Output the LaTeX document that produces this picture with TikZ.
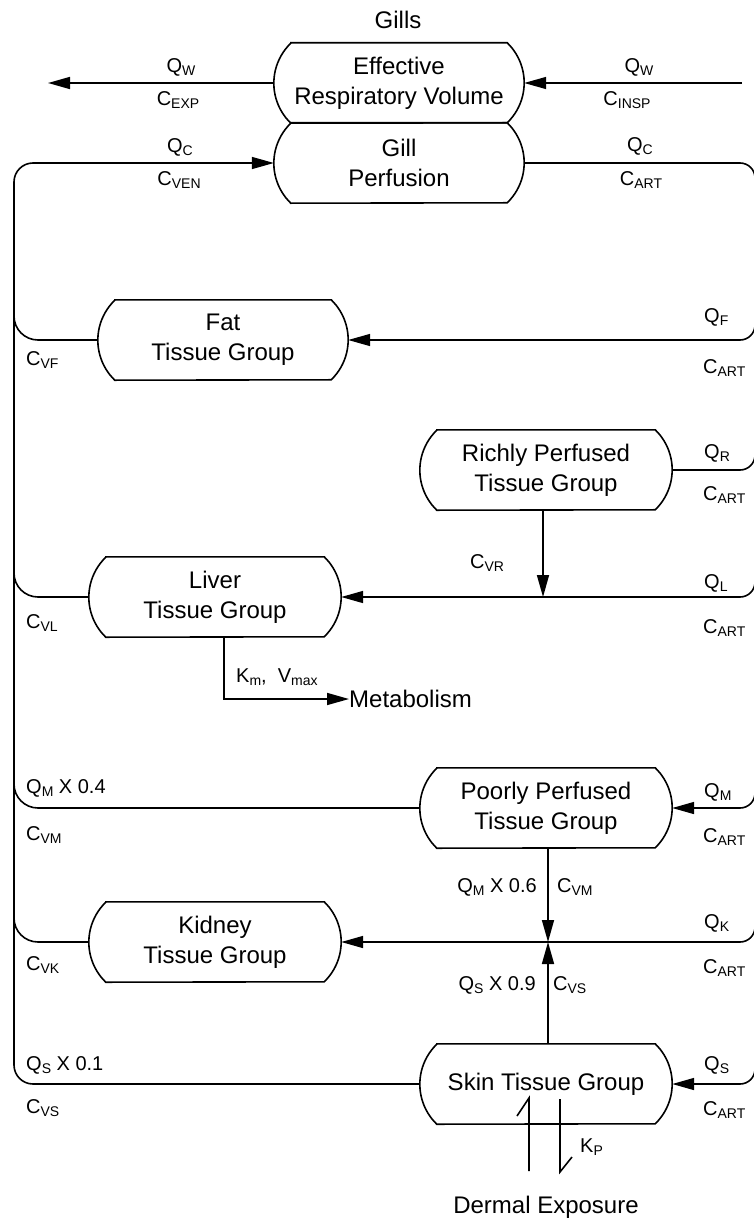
\documentclass[tikz,border=0pt]{standalone}
\usepackage{fontspec}
\setmainfont{Liberation Sans}
\usetikzlibrary{arrows.meta}
\newcommand\lblf{\fontsize{20}{24}\selectfont}
\newcommand\bxf{\fontsize{24}{30}\selectfont}
\newcommand\sbs[1]{\raisebox{-3pt}{\fontsize{14}{14}\selectfont #1}}
\newcommand\tout[1]{\draw[ln] ([xshift=17pt]#1.north west) -- ([xshift=-17pt]#1.north east) arc[start angle=46, end angle=-46, radius=55.6pt] -- ([xshift=17pt]#1.south west) arc[start angle=226, end angle=134, radius=55.6pt] -- cycle;}
\tikzset{
  ln/.style={line width=1.6pt},
  arr/.style={ln, -{Triangle[length=22pt,width=12pt]}},
  tbox/.style={minimum width=252pt, minimum height=80pt, inner sep=0pt, align=center, font=\bxf},
  lab/.style={inner sep=0pt, font=\lblf},
  big/.style={inner sep=0pt, font=\bxf},
}
\begin{document}
\begin{tikzpicture}[x=1pt,y=-1pt]
\useasboundingbox (0,0) rectangle (754,1220);
\clip (0,0) rectangle (754,1220);
% boxes
\node[tbox, minimum width=250pt] (erv) at (399,83) {Effective\\Respiratory Volume};
\node[tbox, minimum width=250pt] (gill) at (399,163) {Gill\\Perfusion};
\node[tbox, minimum width=250pt] (fat) at (223,340) {Fat\\Tissue Group};
\node[tbox] (rich) at (546,470) {Richly Perfused\\Tissue Group};
\node[tbox] (liver) at (215,597) {Liver\\Tissue Group};
\node[tbox] (poor) at (546,808) {Poorly Perfused\\Tissue Group};
\node[tbox] (kid) at (215,942) {Kidney\\Tissue Group};
\node[tbox] (skin) at (546,1084) {Skin Tissue Group};
\foreach \b in {erv,gill,fat,rich,liver,poor,kid,skin} {\tout{\b}}
% texts
\node[big] (gills) at (398,20) {Gills};
\node[big, anchor=west] (metab) at (349,699) {Metabolism};
\node[big] (derm) at (546,1207) {Dermal Exposure};
% coordinates
\coordinate (outL) at (48,83);
\coordinate (inR) at (742,83);
\coordinate (ltop) at (14,163);
\coordinate (lbot) at (14,1084);
\coordinate (rtop) at (755,163);
\coordinate (rbot) at (755,1084);
\coordinate (lF) at (14,340);
\coordinate (lL) at (14,597);
\coordinate (lM) at (14,808);
\coordinate (lK) at (14,942);
\coordinate (rF) at (755,340);
\coordinate (rR) at (755,470);
\coordinate (rL) at (755,597);
\coordinate (rM) at (755,808);
\coordinate (rK) at (755,942);
\coordinate (jL) at (543,597);
\coordinate (jK) at (548,942);
\coordinate (mk) at (224,699);
\coordinate (d1a) at (529,1098);
\coordinate (d1b) at (529,1171);
\coordinate (d1c) at (517,1116);
\coordinate (d2a) at (560,1099);
\coordinate (d2b) at (560,1172);
\coordinate (d2c) at (572,1157);
% connectors
\draw[arr] (erv.west) -- (outL);
\draw[arr] (inR) -- (erv.east);
\draw[arr, rounded corners=19pt] (skin.west) -- (lbot) -- (ltop) -- (gill.west);
\draw[arr, rounded corners=15pt] (gill.east) -- (rtop) -- (rbot) -- (skin.east);
\draw[ln, rounded corners=24pt] ([yshift=50pt]lF) -- (lF) -- (fat.west);
\draw[ln, rounded corners=24pt] ([yshift=50pt]lL) -- (lL) -- (liver.west);
\draw[ln, rounded corners=24pt] ([yshift=50pt]lM) -- (lM) -- (poor.west);
\draw[ln, rounded corners=24pt] ([yshift=50pt]lK) -- (lK) -- (kid.west);
\draw[arr, rounded corners=15pt] ([yshift=40pt]rF) -- (rF) -- (fat.east);
\draw[ln, rounded corners=15pt] ([yshift=40pt]rR) -- (rR) -- (rich.east);
\draw[arr, rounded corners=15pt] ([yshift=40pt]rL) -- (rL) -- (liver.east);
\draw[arr, rounded corners=15pt] ([yshift=40pt]rM) -- (rM) -- (poor.east);
\draw[arr, rounded corners=15pt] ([yshift=40pt]rK) -- (rK) -- (kid.east);
\draw[arr] (rich.south -| jL) -- (jL);
\draw[arr] (poor.south -| jK) -- (jK);
\draw[arr] (skin.north -| jK) -- (jK);
\draw[arr] (liver.south -| mk) -- (mk) -- (metab.west);
\draw[ln] (d1b) -- (d1a) -- (d1c);
\draw[ln] (d2a) -- (d2b) -- (d2c);
% labels top
\node[lab] (l1) at (181,67) {Q\sbs{W}};
\node[lab] (l2) at (178,100) {C\sbs{EXP}};
\node[lab] (l3) at (639,67) {Q\sbs{W}};
\node[lab] (l4) at (627,100) {C\sbs{INSP}};
\node[lab] (l5) at (180,147) {Q\sbs{C}};
\node[lab] (l6) at (179,180) {C\sbs{VEN}};
\node[lab] (l7) at (640,146) {Q\sbs{C}};
\node[lab] (l8) at (641,180) {C\sbs{ART}};
% right labels
\node[lab, anchor=west] (qf) at (704,317) {Q\sbs{F}};
\node[lab, anchor=west] (cf) at (703,368) {C\sbs{ART}};
\node[lab, anchor=west] (qr) at (704,453) {Q\sbs{R}};
\node[lab, anchor=west] (cr) at (703,495) {C\sbs{ART}};
\node[lab, anchor=west] (ql) at (704,583) {Q\sbs{L}};
\node[lab, anchor=west] (cl) at (703,628) {C\sbs{ART}};
\node[lab, anchor=west] (qm) at (704,792) {Q\sbs{M}};
\node[lab, anchor=west] (cm) at (703,837) {C\sbs{ART}};
\node[lab, anchor=west] (qk) at (704,923) {Q\sbs{K}};
\node[lab, anchor=west] (ck) at (703,968) {C\sbs{ART}};
\node[lab, anchor=west] (qs) at (704,1065) {Q\sbs{S}};
\node[lab, anchor=west] (cs) at (703,1110) {C\sbs{ART}};
% left labels
\node[lab, anchor=west] (cvf) at (26,360) {C\sbs{VF}};
\node[lab, anchor=west] (cvl) at (26,623) {C\sbs{VL}};
\node[lab, anchor=west] (qm4) at (26,788) {Q\sbs{M} X 0.4};
\node[lab, anchor=west] (cvm) at (26,835) {C\sbs{VM}};
\node[lab, anchor=west] (cvk) at (26,965) {C\sbs{VK}};
\node[lab, anchor=west] (qs1) at (26,1065) {Q\sbs{S} X 0.1};
\node[lab, anchor=west] (cvs) at (26,1108) {C\sbs{VS}};
% middle labels
\node[lab] (cvr) at (487,563) {C\sbs{VR}};
\node[lab, anchor=east] (qm6) at (537,887) {Q\sbs{M} X 0.6};
\node[lab, anchor=west] (cvm2) at (557,887) {C\sbs{VM}};
\node[lab, anchor=east] (qs9) at (536,985) {Q\sbs{S} X 0.9};
\node[lab, anchor=west] (cvs2) at (553,985) {C\sbs{VS}};
\node[lab, anchor=west] (kmv) at (236,677) {K\sbs{m},\ \ V\sbs{max}};
\node[lab, anchor=west] (kp) at (580,1147) {K\sbs{P}};
\end{tikzpicture}
\end{document}
